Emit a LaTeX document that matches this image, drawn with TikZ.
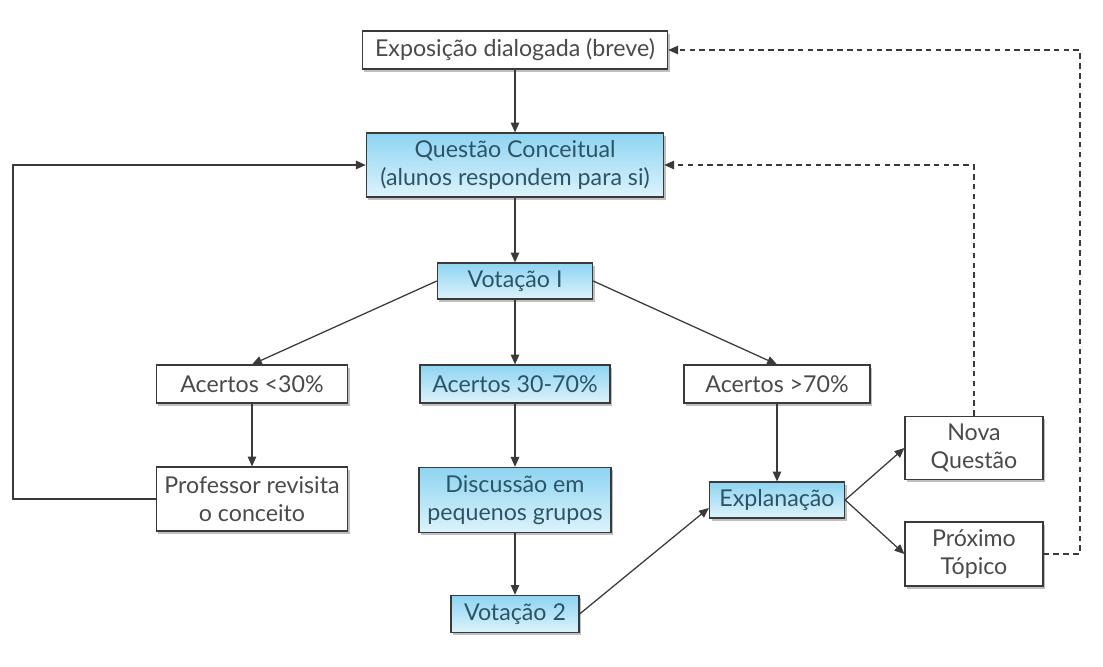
\documentclass[tikz,border=0pt]{standalone}
\usepackage{fontspec}
\setmainfont{Lato}
\usetikzlibrary{arrows.meta,positioning,calc,shadows}

\definecolor{boxline}{HTML}{3A3A3A}
\definecolor{greytext}{HTML}{4A4A4A}
\definecolor{bluetext}{HTML}{2B5566}
\definecolor{bluetop}{HTML}{8ED4F2}
\definecolor{bluebot}{HTML}{DDF3FB}

\begin{document}
\begin{tikzpicture}[x=0.025cm, y=-0.025cm, >={Triangle[length=7pt,width=6pt]},
    box/.style={draw=boxline, line width=0.8pt, fill=white, text=greytext, align=center,
        inner sep=2pt, font=\fontsize{16.5}{20}\selectfont,
        drop shadow={shadow xshift=1.5pt, shadow yshift=-2pt, opacity=0.5}},
    bluebox/.style={box, top color=bluetop, bottom color=bluebot, text=bluetext},
    link/.style={->, draw=boxline, line width=0.9pt},
    back/.style={link, dash pattern=on 4pt off 3pt}]
    \useasboundingbox (0,0) rectangle (1103,666);

    % Top row
    \node[box, minimum width=7.63cm, minimum height=0.95cm] (expo) at (515,50) {Exposição dialogada (breve)};
    \node[bluebox, minimum width=7.43cm, minimum height=1.6cm] (questao) at (515,165) {Questão Conceitual\\(alunos respondem para si)};
    \node[bluebox, minimum width=3.88cm, minimum height=0.9cm] (vot1) at (515,281) {Votação I};

    % Outcomes of the vote
    \node[box, minimum width=4.78cm, minimum height=0.95cm] (low) at (252,384) {Acertos <30\%};
    \node[bluebox, minimum width=4.75cm, minimum height=0.95cm] (mid) at (515,384) {Acertos 30-70\%};
    \node[box, minimum width=4.65cm, minimum height=0.95cm] (high) at (777,384) {Acertos >70\%};

    % Lower row
    \node[box, minimum width=4.78cm, minimum height=1.6cm] (prof) at (252,499) {Professor revisita\\o conceito};
    \node[bluebox, minimum width=4.8cm, minimum height=1.63cm] (disc) at (515,500) {Discussão em\\pequenos grupos};
    \node[bluebox, minimum width=3.2cm, minimum height=0.93cm] (vot2) at (515,614) {Votação 2};
    \node[bluebox, minimum width=3.38cm, minimum height=0.9cm] (expl) at (777,500) {Explanação};
    \node[box, minimum width=3.45cm, minimum height=1.58cm] (nova) at (974,448) {Nova\\Questão};
    \node[box, minimum width=3.45cm, minimum height=1.6cm] (prox) at (974,554) {Próximo\\Tópico};

    % Return paths
    \coordinate (lx) at (13,0);
    \coordinate (rx) at (1080,0);

    % Main flow
    \draw[link] (expo.south) -- (questao.north);
    \draw[link] (questao.south) -- (vot1.north);
    \draw[link] (vot1.west) -- (low.north);
    \draw[link] (vot1.south) -- (mid.north);
    \draw[link] (vot1.east) -- (high.north);
    \draw[link] (low.south) -- (prof.north);
    \draw[link] (mid.south) -- (disc.north);
    \draw[link] (disc.south) -- (vot2.north);
    \draw[link] (high.south) -- (expl.north);
    \draw[link] (vot2.east) -- ([yshift=-0.2cm]expl.west);
    \draw[link] (expl.east) -- (nova.west);
    \draw[link] (expl.east) -- (prox.west);

    % Loops back
    \draw[link] (prof.west) -- (prof.west -| lx) |- (questao.west);
    \draw[back] (nova.north) |- (questao.east);
    \draw[back] (prox.east) -- (prox.east -| rx) |- (expo.east);
\end{tikzpicture}
\end{document}
